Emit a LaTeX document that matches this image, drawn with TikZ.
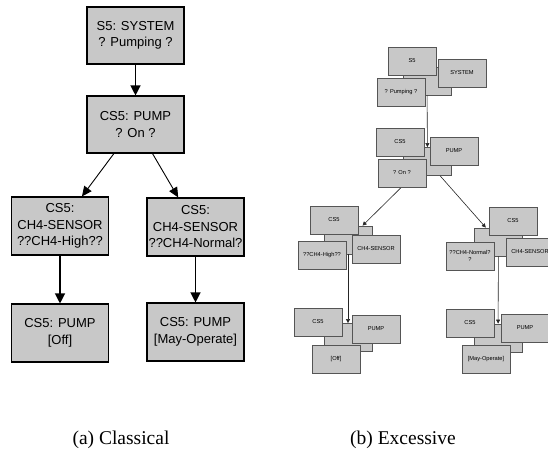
\documentclass[tikz,border=0pt]{standalone}
\usepackage{fontspec}
\setmainfont{Liberation Serif}
\newfontfamily\boxfont{Liberation Sans}
\usetikzlibrary{arrows.meta}
\definecolor{boxgray}{RGB}{200,200,200}
\definecolor{edgegray}{RGB}{85,85,85}

\begin{document}
\begin{tikzpicture}[x=1pt,y=-1pt,
  bigbox/.style={draw=black, line width=1.1pt, fill=boxgray,
    minimum width=97pt, minimum height=57pt, inner sep=0pt, align=center,
    font=\boxfont\fontsize{13}{16.5}\selectfont},
  smallbox/.style={draw=edgegray, line width=0.8pt, fill=boxgray,
    minimum width=48pt, minimum height=28pt, inner sep=0pt, align=center,
    font=\boxfont\fontsize{5.7}{7}\selectfont},
  bigarrow/.style={draw=black, line width=1.2pt, -{Triangle[length=10pt,width=10pt]}},
  slantarrow/.style={draw=black, line width=0.9pt, -{Triangle[length=10pt,width=9pt]}},
  smallarrow/.style={draw=black!85, line width=0.6pt, -{Triangle[length=4pt,width=4pt]}},
  caption/.style={anchor=base, font=\fontsize{19.5}{22}\selectfont}
]
\useasboundingbox (0,0) rectangle (548,450);
\clip (0,0) rectangle (548,450);

% ---------------- (a) classical layout ----------------
\node[bigbox] (sys)    at (135.5,35.5) {S5: SYSTEM\\? Pumping ?};
\node[bigbox] (pump)   at (135.5,124.5) {CS5: PUMP\\? On ?};
\node[bigbox, minimum height=58pt] (high)   at (60,226)   {CS5:\\CH4-SENSOR\\??CH4-High??};
\node[bigbox, minimum height=58pt] (normal) at (195.5,227) {CS5:\\CH4-SENSOR\\??CH4-Normal?};
\node[bigbox, minimum height=58pt] (off)    at (60,333)   {CS5: PUMP\\{[Off]}};
\node[bigbox, minimum height=58pt] (may)    at (195.5,332) {CS5: PUMP\\{[May-Operate]}};

\draw[bigarrow]   (sys) -- (pump);
\draw[slantarrow] (pump) -- (high);
\draw[slantarrow] (pump) -- (normal);
\draw[bigarrow]   (high) -- (off);
\draw[bigarrow]   (normal) -- (may);

% ---------------- (b) excessive layout ----------------
% hidden centre boxes of each cluster
\node[smallbox] (b1) at (427,81)  {};
\node[smallbox] (b2) at (427.5,161.5) {};
\node[smallbox] (b3) at (348,240) {};
\node[smallbox] (b4) at (348,337.5) {};
\node[smallbox] (b5) at (498.5,242) {};
\node[smallbox] (b6) at (498,338) {};

\draw[smallarrow] (b1) -- (b2);
\draw[smallarrow] (b2) -- (b3);
\draw[smallarrow] (b2) -- (b5);
\draw[smallarrow] (b3) -- (b4);
\draw[smallarrow] (b5) -- (b6);

% satellite boxes
\node[smallbox] (s1a) at (412,61)  {S5};
\node[smallbox] (s1b) at (462,73)  {SYSTEM};
\node[smallbox] (s1c) at (401,92)  {? Pumping ?};

\node[smallbox] (s2a) at (400,142) {CS5};
\node[smallbox] (s2b) at (454,151) {PUMP};
\node[smallbox] (s2c) at (402,173) {? On ?};

\node[smallbox] (s3a) at (334,220) {CS5};
\node[smallbox] (s3b) at (376,249) {CH4-SENSOR};
\node[smallbox] (s3c) at (322,255) {??CH4-High??};

\node[smallbox] (s4a) at (318,322) {CS5};
\node[smallbox] (s4b) at (376,329) {PUMP};
\node[smallbox] (s4c) at (336,359) {[Off]};

\node[smallbox] (s5a) at (513,221) {CS5};
\node[smallbox] (s5b) at (530,252) {CH4-SENSOR};
\node[smallbox] (s5c) at (470,256) {??CH4-Normal?\\?};

\node[smallbox] (s6a) at (470,323) {CS5};
\node[smallbox] (s6b) at (525,328) {PUMP};
\node[smallbox] (s6c) at (486,359) {[May-Operate]};

% ---------------- captions ----------------
\node[caption] (capa) at (121,444) {(a) Classical};
\node[caption] (capb) at (403,444) {(b) Excessive};
\end{tikzpicture}
\end{document}
